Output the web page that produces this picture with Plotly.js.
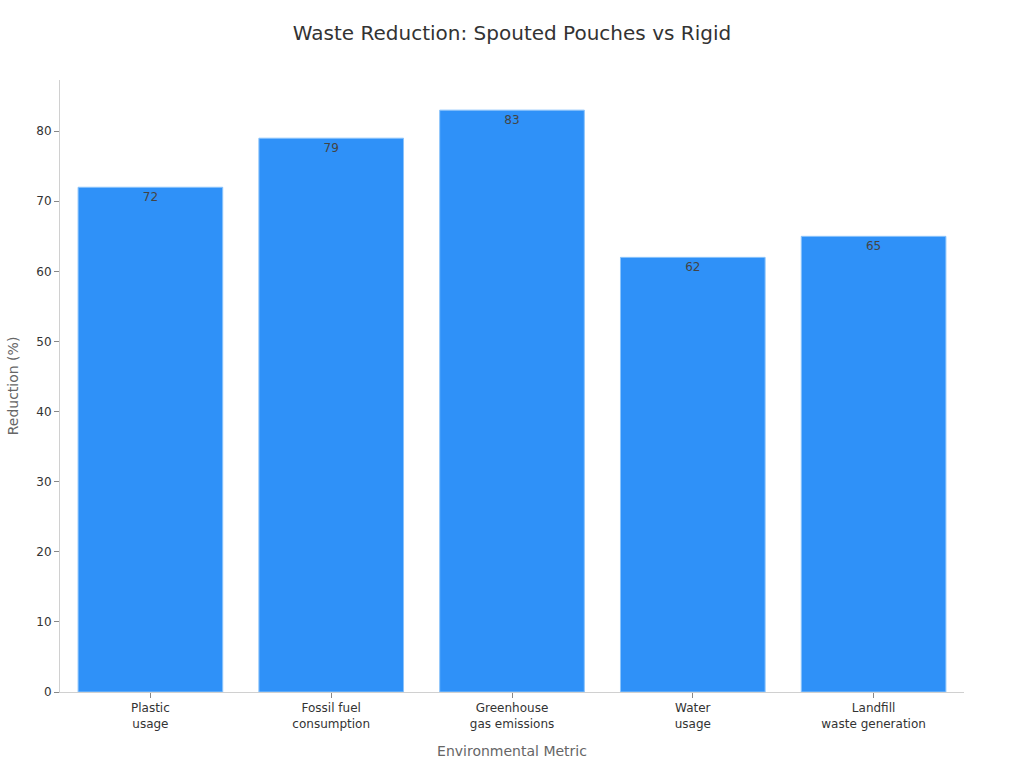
<!DOCTYPE html>
<html>
<head>
<meta charset="utf-8">
<script src="https://cdn.plot.ly/plotly-3.0.1.min.js"></script>
<style>html,body{margin:0;padding:0;background:#fff}#chart{width:1024px;height:768px}</style>
</head>
<body>
<div id="chart"></div>
<script>
const categories = ["Plastic<br>usage", "Fossil fuel<br>consumption", "Greenhouse<br>gas emissions", "Water<br>usage", "Landfill<br>waste generation"];
const reductionValues = [72, 79, 83, 62, 65];
const yTickValues = [0, 10, 20, 30, 40, 50, 60, 70, 80];

const trace = {
  type: "bar",
  x: categories,
  y: reductionValues,
  text: reductionValues.map(String),
  textposition: "inside",
  insidetextanchor: "end",
  textfont: {family: "DejaVu Sans", size: 12, color: "#444"},
  marker: {color: "#2f91f8", line: {color: "#8cc4fb", width: 1}},
  hoverinfo: "x+y",
  cliponaxis: false
};

const layout = {
  width: 1024, height: 768,
  margin: {l: 60, r: 60, t: 80, b: 76},
  paper_bgcolor: "#fff", plot_bgcolor: "#fff",
  font: {family: "DejaVu Sans", size: 12, color: "#333"},
  title: {text: "Waste Reduction: Spouted Pouches vs Rigid", x: 0.5, xanchor: "center", yref: "container", y: 0.957, yanchor: "middle", font: {size: 20, color: "#333"}},
  bargap: 0.2,
  showlegend: false,
  xaxis: {
    title: {text: "Environmental Metric", font: {size: 14, color: "#666"}, standoff: 16},
    showline: true, linecolor: "#d0d0d0", linewidth: 1,
    ticks: "outside", ticklen: 5, tickcolor: "#888",
    tickfont: {size: 12, color: "#333"},
    showgrid: false, zeroline: false
  },
  yaxis: {
    title: {text: "Reduction (%)", font: {size: 14, color: "#666"}, standoff: 14},
    range: [0, 87.3],
    tickvals: yTickValues,
    showline: true, linecolor: "#d0d0d0", linewidth: 1,
    ticks: "outside", ticklen: 5, tickcolor: "#888",
    tickfont: {size: 12, color: "#333"},
    showgrid: false, zeroline: false
  }
};

Plotly.newPlot("chart", [trace], layout, {displayModeBar: false, staticPlot: true});
</script>
</body>
</html>
